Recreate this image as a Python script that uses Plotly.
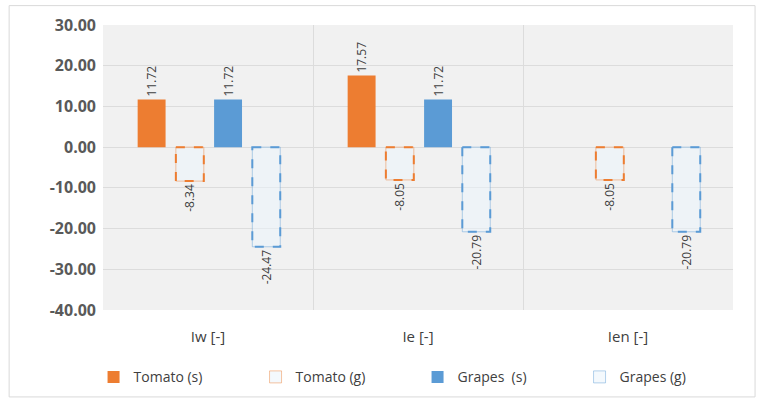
import plotly.graph_objects as go

categorias = ['Iw [-]', 'Ie [-]', 'Ien [-]']
tomato_s = [11.72, 17.57, None]
tomato_g = [-8.34, -8.05, -8.05]
grapes_s = [11.72, 11.72, None]
grapes_g = [-24.47, -20.79, -20.79]

y_ticks = [30, 20, 10, 0, -10, -20, -30, -40]
y_tick_text = ['30.00', '20.00', '10.00', '0.00', '-10.00', '-20.00', '-30.00', '-40.00']

naranja = '#ed7d31'
azul = '#5b9bd5'
naranja_suave = 'rgba(237,125,49,0.45)'
azul_suave = 'rgba(91,155,213,0.45)'

# ancho y desplazamiento fijos de las barras (en unidades de categoria)
ancho = 0.133
paso = 0.182
inicio = -0.335

series = [
    ('Tomato (s)', tomato_s, naranja, None),
    ('Tomato (g)', tomato_g, naranja, naranja_suave),
    ('Grapes  (s)', grapes_s, azul, None),
    ('Grapes (g)', grapes_g, azul, azul_suave),
]

def fmt(v):
    # guion normal en lugar del signo menos unicode
    return '' if v is None else f'{v:.2f}'

fig = go.Figure()
formas = []
for k, (nombre, valores, color, suave) in enumerate(series):
    off = inicio + k * paso
    hueca = suave is not None
    linea = dict(width=1, color=suave) if hueca else dict(width=0)
    fig.add_trace(go.Bar(
        x=categorias, y=valores, name=nombre,
        width=ancho, offset=off,
        marker=dict(color='rgba(235,244,252,0.55)' if hueca else color, line=linea),
        text=[fmt(v) for v in valores], textposition='outside', textangle=-90,
        constraintext='none',
        textfont=dict(family='Open Sans, sans-serif', size=12, color='#404040'),
        cliponaxis=False,
    ))
    if hueca:
        # contorno discontinuo como en el original
        for i, v in enumerate(valores):
            if v is None:
                continue
            formas.append(dict(type='rect', xref='x', yref='y',
                               x0=i + off, x1=i + off + ancho, y0=0, y1=v,
                               line=dict(color=color, width=2, dash='dash'),
                               fillcolor='rgba(0,0,0,0)'))

# marco exterior del grafico
formas.append(dict(type='rect', xref='paper', yref='paper',
                   x0=-0.149, x1=1.035, y0=-0.305, y1=1.068,
                   line=dict(color='#d9d9d9', width=1), layer='below'))

fig.update_layout(
    width=764, height=403,
    margin=dict(l=103, r=31, t=25, b=93, autoexpand=False),
    paper_bgcolor='white', plot_bgcolor='#f1f1f1',
    barmode='overlay',
    showlegend=True,
    legend=dict(orientation='h', x=-0.015, xanchor='left', y=-0.18, yanchor='top',
                font=dict(family='Open Sans, sans-serif', size=14, color='#404040'),
                entrywidth=117, entrywidthmode='pixels', itemwidth=30,
                tracegroupgap=0),
    shapes=formas,
    font=dict(family='Open Sans, sans-serif'),
)
fig.update_xaxes(
    type='category', tickson='boundaries', showgrid=True, automargin=False,
    gridcolor='#dcdcdc', gridwidth=1, ticks='', showline=False,
    ticklabelstandoff=16,
    tickfont=dict(family='Open Sans, sans-serif', size=15, color='#404040'),
)
fig.update_yaxes(
    range=[-40, 30], tickvals=y_ticks, ticktext=y_tick_text, automargin=False,
    gridcolor='#dcdcdc', gridwidth=1, zeroline=False,
    showline=False, ticklabelstandoff=6,
    tickfont=dict(family='Open Sans, sans-serif', size=16, color='#595959', weight='bold'),
)

fig.write_html('out.html', config={'displayModeBar': False},
               post_script="document.body.style.margin='0';")
